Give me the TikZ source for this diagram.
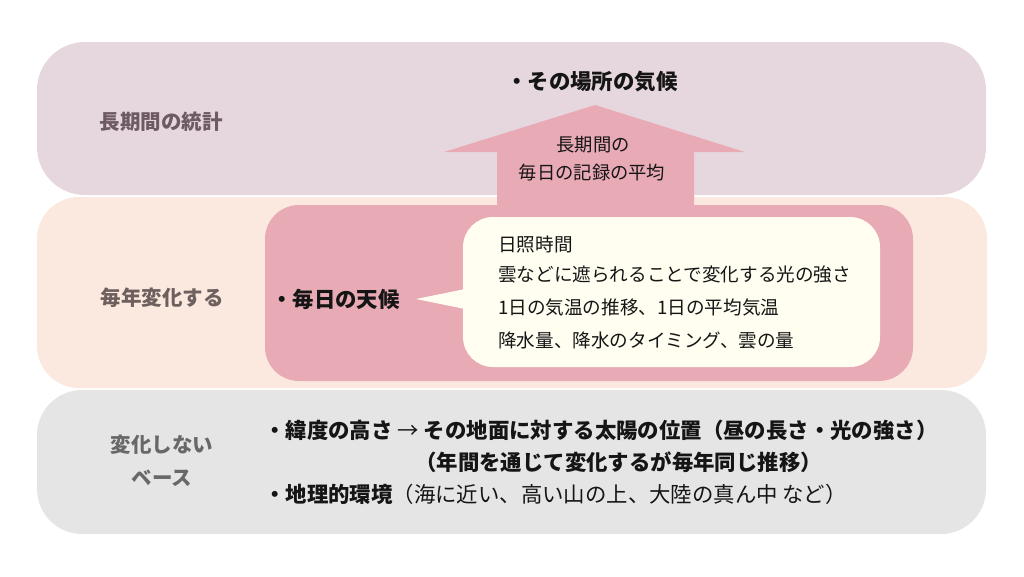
\documentclass[tikz,border=0pt]{standalone}
\usepackage{fontspec}
\setmainfont{Noto Sans CJK JP}
\usepackage{xcolor}
\usetikzlibrary{positioning}

\definecolor{topband}{HTML}{E6D7DE}
\definecolor{midband}{HTML}{FBE8DE}
\definecolor{lowband}{HTML}{E5E5E5}
\definecolor{dailypink}{HTML}{E8AAB5}
\definecolor{bubble}{HTML}{FFFEF1}
\definecolor{labtop}{HTML}{6E5A63}
\definecolor{labmid}{HTML}{6E605E}
\definecolor{lablow}{HTML}{686868}
\definecolor{ink}{HTML}{151515}

\tikzset{
  sidelabel/.style={inner sep=0pt, font=\fontsize{20.5}{24}\selectfont\bfseries},
  headtext/.style={inner sep=0pt, anchor=west, text=ink, font=\fontsize{21.4}{25}\selectfont\bfseries},
  plaintext/.style={inner sep=0pt, anchor=west, text=ink, font=\fontsize{18.6}{22}\selectfont},
  arrowtext/.style={inner sep=0pt, text=ink, font=\fontsize{18.3}{22}\selectfont}
}

\begin{document}
\begin{tikzpicture}[x=1pt,y=-1pt]
\useasboundingbox (0,0) rectangle (1024,576);
% three bands
\fill[topband, rounded corners=48pt] (37,42) rectangle (986,195);
\fill[midband, rounded corners=42pt] (37,197) rectangle (987,388);
\fill[lowband, rounded corners=45pt] (37,390) rectangle (986,534);
% block arrow up
\fill[dailypink] (497,206) -- (497,152) -- (444,152) -- (595,105) -- (745,152) -- (694,152) -- (694,206) -- cycle;
% daily box and bubble
\fill[dailypink, rounded corners=34pt] (265,205) rectangle (913,381);
\fill[bubble] (416,299) -- (475,287) -- (475,311) -- cycle;
\fill[bubble, rounded corners=30pt] (463,217) rectangle (880,367);

% side labels
\node[sidelabel, text=labtop] (stat) at (161,122) {長期間の統計};
\node[sidelabel, text=labmid] (yearly) at (162,298) {毎年変化する};
\node[sidelabel, text=lablow] (fixed) at (162,445) {変化しない};
\node[sidelabel, text=lablow] (base) at (162,478) {ベース};

% top
\node[headtext] (climate) at (506,82) {・その場所の気候};
\node[arrowtext] (avg1) at (593,145) {長期間の};
\node[arrowtext] (avg2) at (592,173) {毎日の記録の平均};

% middle
\node[headtext] (weather) at (271,299) {・毎日の天候};
\node[plaintext] (w1) at (498,244) {日照時間};
\node[plaintext] (w2) at (498,274) {雲などに遮られることで変化する光の強さ};
\node[plaintext] (w3) at (498,307) {1日の気温の推移、1日の平均気温};
\node[plaintext] (w4) at (498,340) {降水量、降水のタイミング、雲の量};

% bottom
\node[headtext] (lat) at (264,430) {・緯度の高さ {\mdseries →} その地面に対する太陽の位置（昼の長さ・光の強さ）};
\node[headtext] (latnote) at (415,462) {（年間を通じて変化するが毎年同じ推移）};
\node[headtext] (geo) at (264,494) {・地理的環境\mdseries（海に近い、高い山の上、大陸の真ん中 など）};
\end{tikzpicture}
\end{document}
